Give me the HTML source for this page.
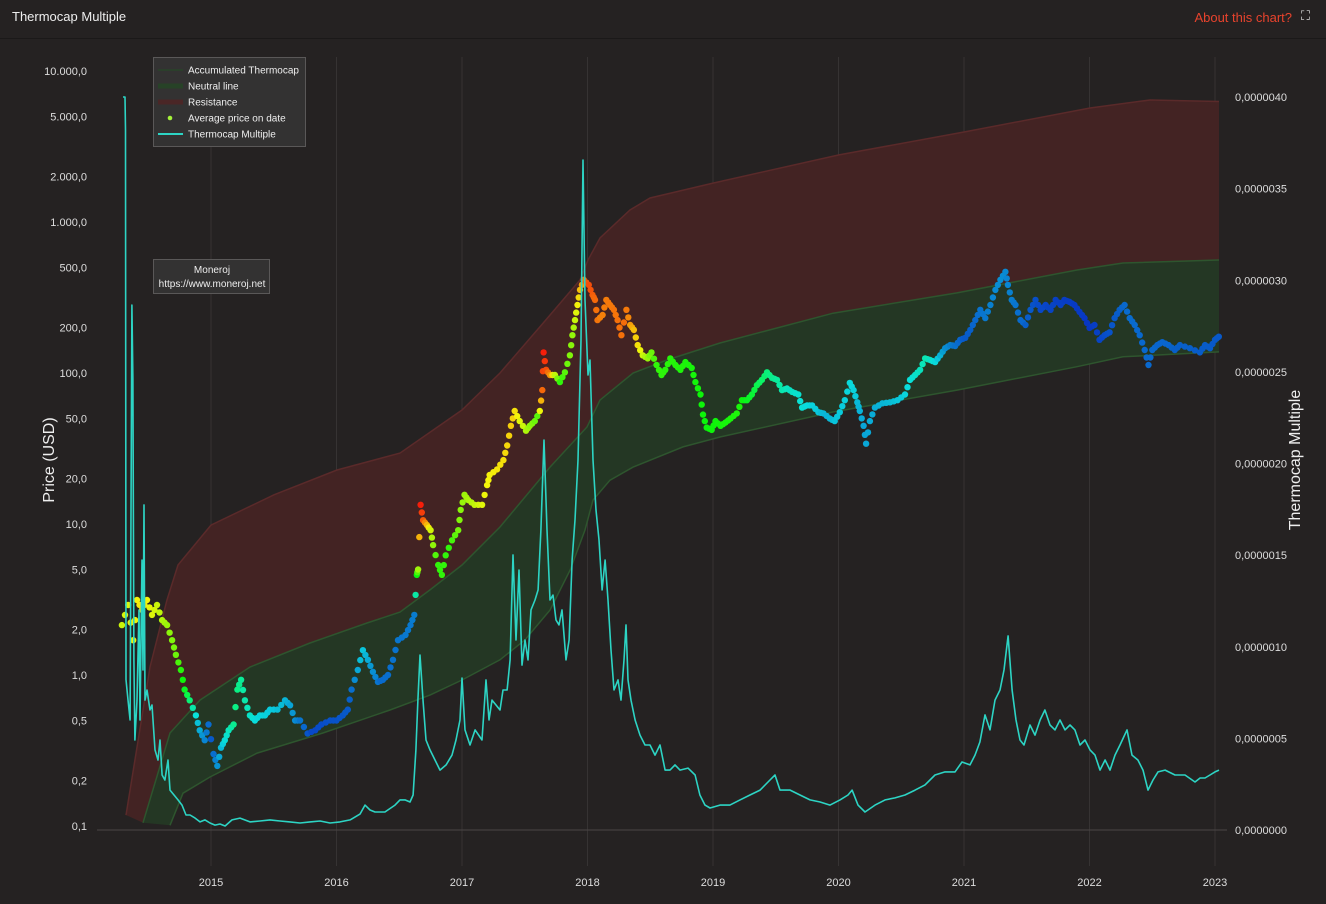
<!DOCTYPE html>
<html><head><meta charset="utf-8"><title>Thermocap Multiple</title>
<style>
html,body{margin:0;padding:0;background:#252222;width:1326px;height:904px;overflow:hidden;font-family:"Liberation Sans",sans-serif}
#hdr{position:absolute;left:0;top:0;width:1326px;height:38px;border-bottom:1px solid #1b1919;background:#252222}
#title{position:absolute;left:12px;top:9px;color:#eee;font-size:13px}
#about{position:absolute;right:34px;top:10px;color:#e8432d;font-size:13px;cursor:pointer}
#expand{position:absolute;right:16px;top:8px;color:#ddd;font-size:13px}
svg{position:absolute;left:0;top:0}
</style></head><body>
<div id="hdr">
<div id="title">Thermocap Multiple</div>
<div id="about">About this chart?</div>
<div id="expand">⛶</div>
</div>
<svg id="chart" width="1326" height="904" style="top:0"></svg>
<script>
// ---------- data ----------
const xTicks=[2015,2016,2017,2018,2019,2020,2021,2022,2023];
const yLeftTicks=[10000,5000,2000,1000,500,200,100,50,20,10,5,2,1,0.5,0.2,0.1];
const yLeftLabels=["10.000,0","5.000,0","2.000,0","1.000,0","500,0","200,0","100,0","50,0","20,0","10,0","5,0","2,0","1,0","0,5","0,2","0,1"];
const yRightTicks=[0,0.5,1,1.5,2,2.5,3,3.5,4]; // millionths
const yRightLabels=["0,0000000","0,0000005","0,0000010","0,0000015","0,0000020","0,0000025","0,0000030","0,0000035","0,0000040"];

const resTopDates=[2014.323,2014.514,2014.649,2014.737,2015.0,2015.502,2016.004,2016.506,2017.0,2017.303,2017.646,2017.94,2018.004,2018.1,2018.339,2018.498,2019.0,2020.004,2021.0,2022.004,2022.482,2023.032];
const resTopPrices=[0.118,1.13,3.13,5.35,9.84,15.6,22.8,29.5,56.9,100,214,413,560,783,1200,1442,1811,2780,3945,5690,6430,6280];
const resStartDates=[2014.323,2014.458];
const resStartPrices=[0.118,0.105];
const neutralDates=[2014.458,2014.673,2014.912,2015.311,2015.789,2016.243,2016.506,2016.745,2017.0,2017.303,2017.701,2017.996,2018.1,2018.363,2018.633,2019.056,2019.956,2020.944,2021.9,2022.267,2023.032];
const neutralPrices=[0.105,0.413,0.682,1.13,1.63,2.21,2.61,3.66,5.35,9.55,23.8,43.9,66.2,100,122,158,249,339,481,535,560];
const accumDates=[2014.673,2014.777,2014.992,2015.367,2015.892,2016.426,2016.745,2017.0,2017.303,2017.502,2017.701,2017.861,2017.98,2018.044,2018.179,2018.363,2018.761,2019.056,2019.956,2020.944,2021.9,2022.267,2023.032];
const accumPrices=[0.101,0.165,0.211,0.304,0.413,0.586,0.736,0.927,1.26,1.71,2.69,4.95,9.12,14.4,19.5,23.8,32.4,37.7,55.2,77.1,110,128,138];

const priceDates=[2014.29,2014.34,2014.38,2014.41,2014.45,2014.49,2014.53,2014.57,2014.61,2014.65,2014.69,2014.72,2014.76,2014.79,2014.83,2014.88,2014.91,2014.95,2014.98,2015.02,2015.05,2015.08,2015.11,2015.14,2015.18,2015.21,2015.24,2015.27,2015.31,2015.35,2015.39,2015.43,2015.47,2015.53,2015.59,2015.63,2015.67,2015.71,2015.77,2015.83,2015.88,2015.95,2016.0,2016.05,2016.09,2016.12,2016.17,2016.21,2016.25,2016.29,2016.33,2016.37,2016.41,2016.45,2016.49,2016.55,2016.59,2016.62,2016.64,2016.65,2016.67,2016.69,2016.72,2016.75,2016.77,2016.81,2016.84,2016.87,2016.92,2016.97,2016.99,2017.02,2017.05,2017.1,2017.16,2017.2,2017.22,2017.28,2017.33,2017.36,2017.39,2017.42,2017.46,2017.51,2017.54,2017.58,2017.62,2017.64,2017.65,2017.67,2017.7,2017.74,2017.78,2017.82,2017.86,2017.88,2017.9,2017.92,2017.94,2017.97,2018.01,2018.04,2018.06,2018.08,2018.12,2018.15,2018.18,2018.21,2018.24,2018.27,2018.31,2018.34,2018.37,2018.4,2018.44,2018.48,2018.51,2018.55,2018.59,2018.62,2018.66,2018.7,2018.74,2018.78,2018.83,2018.86,2018.9,2018.92,2018.95,2018.99,2019.02,2019.06,2019.1,2019.14,2019.19,2019.23,2019.27,2019.31,2019.35,2019.39,2019.43,2019.47,2019.51,2019.55,2019.59,2019.63,2019.68,2019.71,2019.75,2019.79,2019.84,2019.88,2019.93,2019.97,2020.01,2020.05,2020.09,2020.12,2020.15,2020.17,2020.2,2020.22,2020.25,2020.29,2020.35,2020.41,2020.47,2020.53,2020.57,2020.61,2020.65,2020.69,2020.73,2020.77,2020.81,2020.85,2020.89,2020.93,2020.97,2021.01,2021.05,2021.09,2021.13,2021.17,2021.21,2021.25,2021.29,2021.33,2021.35,2021.38,2021.41,2021.45,2021.49,2021.53,2021.57,2021.61,2021.65,2021.69,2021.73,2021.77,2021.8,2021.84,2021.88,2021.92,2021.96,2022.0,2022.04,2022.08,2022.12,2022.16,2022.2,2022.24,2022.28,2022.32,2022.36,2022.4,2022.44,2022.47,2022.5,2022.54,2022.58,2022.63,2022.68,2022.72,2022.8,2022.88,2022.92,2022.96,2023.0,2023.03];
const priceValues=[2.14,2.91,1.7,3.14,2.7,3.14,2.5,2.91,2.31,2.14,1.7,1.36,1.08,0.8,0.68,0.54,0.43,0.37,0.47,0.3,0.25,0.33,0.37,0.43,0.47,0.8,0.93,0.68,0.54,0.5,0.54,0.54,0.59,0.59,0.68,0.63,0.5,0.5,0.41,0.43,0.47,0.5,0.5,0.54,0.59,0.8,1.08,1.46,1.26,1.05,0.9,0.93,1.0,1.26,1.7,1.84,2.14,2.5,4.6,5.0,13.4,10.6,9.85,9.1,7.25,5.35,4.6,6.2,7.8,9.1,12.4,15.6,14.4,13.4,13.4,18.1,21.1,23,26.5,33.1,44.7,56,48,41.5,44.7,48,56,77,137,105,97,97,87,101,131,178,224,282,355,414,383,329,305,224,242,305,282,262,224,178,262,208,193,153,131,125,137,113,97,105,125,113,105,118,108,87,72,53,43.5,42,48,44.7,47,50,54,66,66,72,83,90,101,93,90,77,79,75,72,59,61,61,55,54,50,48,55,66,86,77,64,56,44.7,34,48,59,63,64,66,72,90,97,105,125,122,118,131,146,153,151,166,171,193,224,262,231,282,355,414,468,383,305,282,224,208,262,305,262,282,262,305,282,305,296,282,254,231,199,208,166,178,186,231,262,282,231,208,178,142,113,142,153,160,153,142,153,146,137,153,146,166,174];
const hueDates=[2014.3,2014.45,2014.6,2014.72,2014.8,2014.9,2015.0,2015.2,2015.35,2015.6,2015.8,2016.1,2016.2,2016.35,2016.62,2016.64,2016.67,2016.72,2016.8,2016.9,2017.0,2017.2,2017.4,2017.6,2017.65,2017.7,2017.78,2017.88,2017.95,2018.0,2018.1,2018.3,2018.4,2018.55,2018.95,2019.2,2019.4,2019.6,2019.9,2020.1,2020.2,2020.5,2020.7,2020.85,2021.0,2021.3,2021.6,2022.0,2022.3,2023.05];
const hueValues=[70,55,75,95,130,190,215,150,180,190,220,215,185,210,205,120,5,45,110,110,85,60,50,100,5,35,110,85,40,15,30,25,55,110,120,115,145,170,190,180,195,185,165,200,215,200,220,225,210,215];

const tmDates=[2014.299,2014.315,2014.319,2014.323,2014.339,2014.355,2014.37,2014.378,2014.386,2014.394,2014.41,2014.426,2014.434,2014.45,2014.458,2014.466,2014.474,2014.49,2014.514,2014.53,2014.554,2014.578,2014.594,2014.61,2014.633,2014.657,2014.673,2014.705,2014.737,2014.769,2014.801,2014.833,2014.873,2014.912,2014.952,2014.992,2015.032,2015.072,2015.112,2015.167,2015.231,2015.311,2015.39,2015.47,2015.55,2015.629,2015.709,2015.789,2015.869,2015.948,2016.028,2016.108,2016.187,2016.227,2016.267,2016.307,2016.386,2016.466,2016.506,2016.546,2016.586,2016.61,2016.633,2016.649,2016.665,2016.689,2016.713,2016.745,2016.785,2016.825,2016.873,2016.92,2016.952,2016.984,2017.0,2017.024,2017.064,2017.104,2017.159,2017.191,2017.215,2017.239,2017.271,2017.303,2017.327,2017.359,2017.383,2017.406,2017.43,2017.454,2017.478,2017.502,2017.526,2017.55,2017.582,2017.606,2017.629,2017.653,2017.677,2017.701,2017.725,2017.749,2017.773,2017.797,2017.829,2017.853,2017.877,2017.9,2017.924,2017.948,2017.964,2017.98,2018.004,2018.02,2018.044,2018.068,2018.092,2018.116,2018.14,2018.163,2018.187,2018.211,2018.243,2018.267,2018.291,2018.307,2018.323,2018.347,2018.379,2018.418,2018.458,2018.498,2018.538,2018.578,2018.618,2018.657,2018.697,2018.737,2018.801,2018.857,2018.896,2018.936,2018.976,2019.056,2019.135,2019.215,2019.295,2019.375,2019.454,2019.494,2019.534,2019.614,2019.693,2019.773,2019.853,2019.932,2020.012,2020.076,2020.108,2020.155,2020.211,2020.291,2020.371,2020.45,2020.53,2020.61,2020.689,2020.769,2020.849,2020.928,2020.984,2021.048,2021.088,2021.127,2021.167,2021.207,2021.247,2021.287,2021.319,2021.351,2021.383,2021.414,2021.446,2021.478,2021.526,2021.566,2021.606,2021.645,2021.685,2021.725,2021.765,2021.805,2021.845,2021.884,2021.924,2021.964,2022.004,2022.044,2022.084,2022.124,2022.163,2022.203,2022.243,2022.299,2022.339,2022.386,2022.426,2022.466,2022.506,2022.546,2022.602,2022.681,2022.761,2022.841,2022.881,2022.92,2022.96,2023.0,2023.032];
const tmValues=[4.0,4.0,3.82,0.82,0.71,0.6,2.865,2.456,0.928,0.491,0.709,1.2,0.6,1.473,0.873,1.774,0.709,0.764,0.655,0.682,0.437,0.382,0.491,0.3,0.273,0.382,0.218,0.191,0.164,0.136,0.082,0.082,0.065,0.044,0.055,0.038,0.027,0.033,0.022,0.055,0.065,0.044,0.049,0.055,0.049,0.044,0.038,0.044,0.049,0.038,0.044,0.055,0.087,0.136,0.109,0.098,0.098,0.136,0.164,0.164,0.153,0.191,0.437,0.709,0.955,0.709,0.491,0.437,0.382,0.327,0.355,0.409,0.491,0.6,0.829,0.546,0.464,0.546,0.491,0.819,0.6,0.709,0.682,0.655,0.764,0.764,0.928,1.501,1.037,1.419,0.9,1.037,0.928,1.201,1.255,1.31,1.637,2.128,1.637,1.255,1.282,1.146,1.119,1.201,0.928,1.037,1.473,1.692,2.019,2.674,3.656,2.892,2.483,2.565,2.019,1.746,1.583,1.31,1.473,1.255,0.982,0.764,0.819,0.709,0.928,1.119,0.819,0.709,0.6,0.518,0.464,0.464,0.409,0.464,0.327,0.327,0.355,0.327,0.338,0.3,0.191,0.136,0.12,0.136,0.136,0.164,0.191,0.218,0.273,0.3,0.218,0.218,0.191,0.164,0.153,0.136,0.164,0.191,0.218,0.136,0.098,0.136,0.164,0.175,0.191,0.218,0.246,0.3,0.317,0.317,0.371,0.355,0.409,0.48,0.628,0.546,0.709,0.764,0.873,1.059,0.764,0.6,0.491,0.464,0.573,0.518,0.6,0.655,0.573,0.546,0.6,0.546,0.573,0.546,0.464,0.491,0.437,0.409,0.327,0.382,0.327,0.409,0.464,0.546,0.409,0.382,0.327,0.218,0.273,0.317,0.327,0.3,0.3,0.262,0.284,0.284,0.3,0.317,0.327];

// ---------- scales ----------
const X0=211, XPY=125.5;
function xs(d){return X0+(d-2015)*XPY;}
function yl(p){return 826-(Math.log10(p)+1)*151;}
function yr(v){return 830-v*183.25;}
function hueAt(d){
  for(let i=1;i<hueDates.length;i++){ if(d<=hueDates[i]){const t=(d-hueDates[i-1])/(hueDates[i]-hueDates[i-1]);return hueValues[i-1]+t*(hueValues[i]-hueValues[i-1]);} }
  return hueValues[hueValues.length-1];
}
function colAt(h){const l=h>140?50-(h-140)/85*10:50;return 'hsl('+h.toFixed(0)+',92%,'+l.toFixed(0)+'%)';}
const NS="http://www.w3.org/2000/svg";
const svg=document.getElementById('chart');
function mk(tag,attrs,parent){const e=document.createElementNS(NS,tag);for(const k in attrs)e.setAttribute(k,attrs[k]);(parent||svg).appendChild(e);return e;}
function pts(ds,vs,f){return ds.map((d,i)=>xs(d).toFixed(1)+','+f(vs[i]).toFixed(1));}

// grid
const grid=mk('g',{});


xTicks.forEach(t=>{const l=mk('line',{x1:xs(t),x2:xs(t),y1:57,y2:866,stroke:'#363333','stroke-width':1},grid);

});

// resistance band
const resPoly=pts(resTopDates,resTopPrices,yl).concat(pts(neutralDates.slice().reverse(),neutralPrices.slice().reverse(),yl)).concat(pts(resStartDates.slice().reverse(),resStartPrices.slice().reverse(),yl));
const res=mk('polygon',{points:resPoly.join(' '),fill:'#432323'});


const resLine=mk('polyline',{points:pts(resTopDates,resTopPrices,yl).join(' '),fill:'none',stroke:'#5a2a2a','stroke-width':1.5});


// neutral/green band
const gPoly=pts(neutralDates,neutralPrices,yl).concat(pts(accumDates.slice().reverse(),accumPrices.slice().reverse(),yl));
const gb=mk('polygon',{points:gPoly.join(' '),fill:'#243724'});


const nl=mk('polyline',{points:pts(neutralDates,neutralPrices,yl).join(' '),fill:'none',stroke:'#2e552e','stroke-width':1.5});


const al=mk('polyline',{points:pts(accumDates,accumPrices,yl).join(' '),fill:'none',stroke:'#2e552e','stroke-width':1.5});



// baseline
const base=mk('line',{x1:97,x2:1227,y1:830,y2:830,stroke:'#4a4646','stroke-width':1});



// price dots
const dots=mk('g',{});


priceDates.forEach((d,i)=>{
 if(i>0){const d0=priceDates[i-1];const p0=priceValues[i-1];const md=(d+d0)/2;const mp=Math.sqrt(p0*priceValues[i]);
  const c2=mk('circle',{cx:xs(md).toFixed(1),cy:yl(mp).toFixed(1),r:3.2,fill:colAt(hueAt(md))},dots);
  
  }
 const c=mk('circle',{cx:xs(d).toFixed(1),cy:yl(priceValues[i]).toFixed(1),r:3.2,fill:colAt(hueAt(d))},dots);
 
 
});

// thermocap multiple line
const tm=mk('polyline',{points:pts(tmDates,tmValues,yr).join(' '),fill:'none',stroke:'#2dd4c4','stroke-width':1.6,'stroke-linejoin':'round'});



// axes labels
const ax=mk('g',{'font-family':'Liberation Sans, sans-serif','font-size':11,fill:'#dddddd'});


yLeftTicks.forEach((t,i)=>{const e=mk('text',{x:87,y:yl(t)+4,'text-anchor':'end'},ax);e.textContent=yLeftLabels[i];
 
 });
yRightTicks.forEach((t,i)=>{const e=mk('text',{x:1235,y:yr(t)+4},ax);e.textContent=yRightLabels[i];
 
 });
xTicks.forEach(t=>{const e=mk('text',{x:xs(t),y:886,'text-anchor':'middle'},ax);e.textContent=String(t);
 
 });
const lt=mk('text',{x:0,y:0,transform:'translate(54,460) rotate(-90)','text-anchor':'middle','font-size':16,fill:'#eeeeee'},ax);lt.textContent='Price (USD)';


const rt=mk('text',{x:0,y:0,transform:'translate(1300,460) rotate(-90)','text-anchor':'middle','font-size':16,fill:'#eeeeee'},ax);rt.textContent='Thermocap Multiple';



// legend
const lg=mk('g',{'font-family':'Liberation Sans, sans-serif','font-size':10,fill:'#eeeeee'});


mk('rect',{x:153.5,y:57.5,width:152,height:89,fill:'#333232',stroke:'#5a5858'},lg);
const items=[['Accumulated Thermocap','line','#2b3f2b',2],['Neutral line','line','#274227',5],['Resistance','line','#4a2626',5],['Average price on date','dot','#a4f23a',0],['Thermocap Multiple','line','#2dd4c4',2]];
items.forEach((it,i)=>{const y=70+i*16;
 const g=mk('g',{},lg);
 
 
 if(it[1]==='line')mk('line',{x1:158,x2:183,y1:y,y2:y,stroke:it[2],'stroke-width':it[3]},g);
 else mk('circle',{cx:170,cy:y,r:2.3,fill:it[2]},g);
 const t=mk('text',{x:188,y:y+3.5},g);t.textContent=it[0];});

// watermark
const wm=mk('g',{'font-family':'Liberation Sans, sans-serif','font-size':10,fill:'#eeeeee','text-anchor':'middle'});


mk('rect',{x:153.5,y:259.5,width:116,height:34,fill:'#333232',stroke:'#5a5858'},wm);
const w1=mk('text',{x:212,y:273},wm);w1.textContent='Moneroj';
const w2=mk('text',{x:212,y:287},wm);w2.textContent='https://www.moneroj.net';
</script>
</body></html>
